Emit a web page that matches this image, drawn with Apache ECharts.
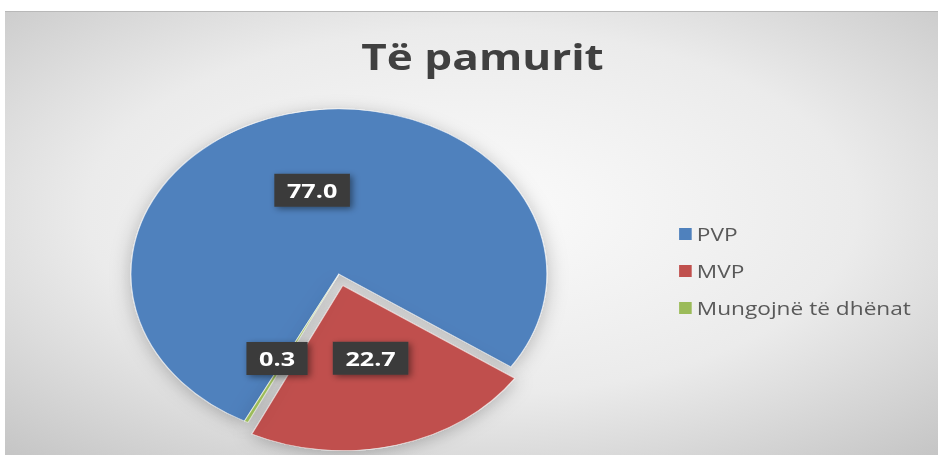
<!DOCTYPE html>
<html>
<head>
<meta charset="utf-8">
<script src="https://cdn.jsdelivr.net/npm/echarts@6/dist/echarts.min.js"></script>
<style>
  html, body { margin: 0; padding: 0; background: #fff; width: 938px; height: 455px; overflow: hidden; }
  /* the reference picture is stretched sideways, so the chart is too */
  #chart {
    position: absolute;
    left: 5px;
    top: 11px;
    width: 741px;
    height: 444px;
    transform: scaleX(1.26);
    transform-origin: 0 0;
    border-top: 1px solid #b8b8b8;
  }
</style>
</head>
<body>
<div id="chart"></div>
<script>
const titleText = "Të pamurit";
const categories = ["PVP", "MVP", "Mungojnë të dhënat"];
const shares = [77.0, 22.7, 0.3];
const colors = ["#4f81bd", "#c0504d", "#9bbb59"];

// small nudges so the data labels sit where the reference puts them
const labelNudge = [[0, -1], [0, -10], [-11, 8]];

const myChart = echarts.init(document.getElementById("chart"), null, { renderer: "svg" });

const option = {
  backgroundColor: {
    type: "radial",
    x: 0.5,
    y: 0.45,
    r: 0.75,
    colorStops: [
      { offset: 0, color: "#fbfbfb" },
      { offset: 0.55, color: "#ebebeb" },
      { offset: 1, color: "#c4c4c4" }
    ]
  },
  title: {
    text: titleText,
    left: 374,
    top: 22,
    textAlign: "center",
    textStyle: {
      fontFamily: "Open Sans",
      fontSize: 35,
      fontWeight: "bold",
      color: "#404040"
    }
  },
  legend: {
    orient: "vertical",
    left: 530,
    top: 208,
    itemWidth: 10,
    itemHeight: 12,
    itemGap: 19,
    icon: "rect",
    itemStyle: { borderWidth: 0, shadowBlur: 0, shadowOffsetY: 0 },
    data: categories,
    textStyle: {
      fontFamily: "Open Sans",
      fontSize: 18,
      color: "#595959",
      padding: [0, 0, 0, -1]
    }
  },
  series: [
    {
      type: "pie",
      center: [265, 262],
      radius: [0, 165],
      startAngle: 243,
      clockwise: true,
      selectedMode: "multiple",
      selectedOffset: 12,
      avoidLabelOverlap: false,
      animation: false,
      itemStyle: {
        borderColor: "rgba(255,255,255,0.6)",
        borderWidth: 0.8,
        shadowBlur: 16,
        shadowColor: "rgba(0,0,0,0.25)",
        shadowOffsetY: 3
      },
      label: {
        show: true,
        position: "inside",
        formatter: (p) => p.value.toFixed(1),
        fontFamily: "Open Sans",
        fontSize: 20,
        fontWeight: "bold",
        color: "#ffffff",
        backgroundColor: "#3b3b3b",
        padding: [7, 10, 6, 10],
        shadowBlur: 6,
        shadowColor: "rgba(0,0,0,0.45)",
        shadowOffsetX: 2,
        shadowOffsetY: 2
      },
      labelLayout: (params) => ({
        dx: labelNudge[params.dataIndex][0],
        dy: labelNudge[params.dataIndex][1]
      }),
      labelLine: { show: false },
      emphasis: { disabled: true },
      data: categories.map((name, i) => ({
        name,
        value: shares[i],
        selected: i === 1,
        itemStyle: { color: colors[i] }
      }))
    }
  ]
};

myChart.setOption(option);
</script>
</body>
</html>
